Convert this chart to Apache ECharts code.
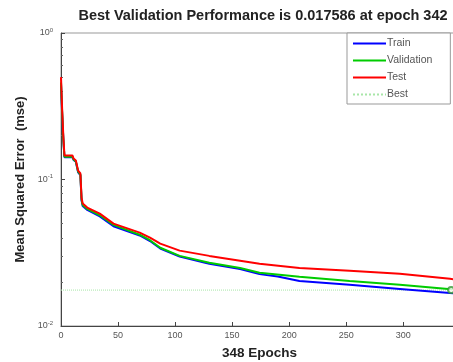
<!DOCTYPE html>
<html>
<head>
<meta charset="utf-8">
<script src="https://cdn.jsdelivr.net/npm/echarts@6/dist/echarts.min.js"></script>
<style>
  html, body { margin: 0; padding: 0; background: #fff; }
  #chart { width: 453px; height: 362px; }
</style>
</head>
<body>
<div id="chart"></div>
<script>
// values (epoch, mse)
const testEpochs = [0, 1, 2, 3, 10, 11, 13, 15, 17, 18, 19, 23, 34, 46, 69, 78, 87, 104, 130, 157, 174, 209, 253, 297, 341, 348];
const testMse = [0.50, 0.30, 0.20, 0.146, 0.146, 0.139, 0.135, 0.115, 0.110, 0.075, 0.0686, 0.0643, 0.0585, 0.050, 0.0434, 0.0401, 0.0365, 0.0327, 0.0301, 0.0279, 0.0266, 0.0249, 0.0238, 0.0227, 0.0210, 0.0207];

const valEpochs = [0, 1, 2, 3, 10, 11, 13, 15, 17, 18, 19, 23, 34, 46, 69, 78, 87, 104, 130, 157, 174, 209, 253, 297, 342, 348];
const valMse = [0.46, 0.29, 0.19, 0.143, 0.143, 0.137, 0.133, 0.113, 0.108, 0.073, 0.067, 0.063, 0.057, 0.049, 0.042, 0.0385, 0.0342, 0.0301, 0.0270, 0.0249, 0.0231, 0.0217, 0.0203, 0.0191, 0.0178, 0.0179];

const trainEpochs = [0, 1, 2, 3, 10, 11, 13, 15, 17, 18, 19, 23, 34, 46, 69, 78, 87, 104, 130, 157, 174, 190, 209, 253, 297, 341, 348];
const trainMse = [0.45, 0.28, 0.19, 0.142, 0.142, 0.136, 0.132, 0.112, 0.107, 0.072, 0.066, 0.062, 0.056, 0.048, 0.0415, 0.038, 0.0338, 0.0298, 0.0266, 0.0245, 0.0226, 0.0218, 0.0203, 0.0191, 0.0179, 0.0168, 0.0166];

const bestEpoch = 342;
const bestValue = 0.017586;
const epochCount = 348;
const xTicks = [0, 50, 100, 150, 200, 250, 300];

const zip = (xs, ys) => xs.map((x, i) => [x, ys[i]]);

const chart = echarts.init(document.getElementById('chart'));

const lineSeries = (name, color, data) => ({
  name,
  type: 'line',
  data,
  symbol: 'none',
  lineStyle: { color, width: 2 },
  itemStyle: { color },
  z: 3,
});

chart.setOption({
  animation: false,
  textStyle: { fontFamily: 'Liberation Sans, Arial, sans-serif' },
  title: {
    text: `Best Validation Performance is ${bestValue} at epoch ${bestEpoch}`,
    left: 258,
    textAlign: 'center',
    top: 3,
    textStyle: { fontSize: 14.5, fontWeight: 'bold', color: '#222' },
  },
  grid: {
    left: 61,
    top: 33,
    width: 397,
    bottom: 36,
    outerBoundsMode: 'none',
    show: true,
    borderColor: '#999',
    borderWidth: 1,
  },
  legend: {
    orient: 'vertical',
    left: 347,
    top: 33,
    padding: [5, 18, 4, 5],
    itemWidth: 33,
    itemHeight: 10,
    itemGap: 6,
    backgroundColor: '#fff',
    borderColor: '#999',
    borderWidth: 1,
    borderRadius: 0,
    itemStyle: { opacity: 0 },
    textStyle: { fontSize: 10.5, color: '#555', padding: [0, 0, 0, -4] },
    data: ['Train', 'Validation', 'Test', 'Best'],
  },
  xAxis: {
    type: 'value',
    min: 0,
    max: epochCount,
    interval: 50,
    name: `${epochCount} Epochs`,
    nameLocation: 'middle',
    nameGap: 20,
    nameTextStyle: { fontSize: 13.5, fontWeight: 'bold', color: '#222' },
    axisLine: { show: true, lineStyle: { color: '#444' } },
    axisTick: { show: true, inside: true, length: 4, lineStyle: { color: '#444' } },
    axisLabel: {
      fontSize: 9,
      color: '#555',
      margin: 5,
      showMaxLabel: false,
      formatter: (v) => (xTicks.includes(v) ? String(v) : ''),
    },
    splitLine: { show: false },
  },
  yAxis: {
    type: 'log',
    logBase: 10,
    min: 0.01,
    max: 1,
    name: 'Mean Squared Error  (mse)',
    nameLocation: 'middle',
    nameGap: 34,
    nameRotate: 90,
    nameTextStyle: { fontSize: 13, fontWeight: 'bold', color: '#222' },
    axisLine: { show: true, lineStyle: { color: '#444' } },
    axisTick: { show: true, inside: true, length: 4, lineStyle: { color: '#444' } },
    minorTick: { show: true, splitNumber: 9, length: 2, lineStyle: { color: '#666' } },
    axisLabel: {
      margin: 8,
      formatter: (v) => `{b|10}{s|${Math.round(Math.log10(v))}}`,
      rich: {
        b: { fontSize: 9, color: '#555' },
        s: { fontSize: 6, color: '#555', verticalAlign: 'top', padding: [0, 0, 6, 0] },
      },
    },
    splitLine: { show: false },
  },
  series: [
    lineSeries('Train', '#0000ff', zip(trainEpochs, trainMse)),
    lineSeries('Validation', '#00cc00', zip(valEpochs, valMse)),
    lineSeries('Test', '#ff0000', zip(testEpochs, testMse)),
    {
      name: 'Best',
      type: 'line',
      data: [[0, bestValue], [epochCount, bestValue]],
      symbol: 'none',
      lineStyle: { color: '#a8e6a8', width: 1, type: 'dotted' },
      itemStyle: { color: '#a8e6a8' },
      z: 2,
    },
    {
      name: 'BestMark',
      type: 'scatter',
      data: [[bestEpoch, bestValue]],
      symbol: 'emptyCircle',
      symbolSize: 6,
      itemStyle: { color: '#339933', borderWidth: 1 },
      z: 4,
    },
  ],
});
</script>
</body>
</html>
